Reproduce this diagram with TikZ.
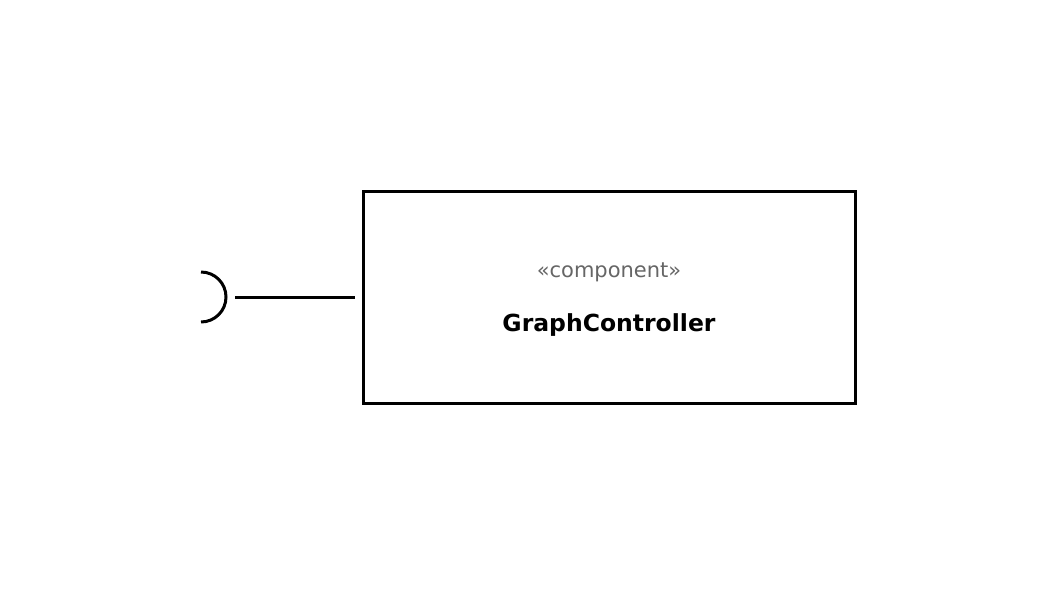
\documentclass[tikz,border=0pt]{standalone}
\usepackage{fontspec}
\setmainfont{DejaVu Sans}
\begin{document}
\begin{tikzpicture}[x=1pt,y=-1pt,
  comp/.style={draw=black,line width=3pt,minimum width=492pt,minimum height=212pt,inner sep=0pt},
  wire/.style={draw=black,line width=3pt},
  stereo/.style={text=black!60,font=\fontsize{21}{25}\selectfont,inner sep=0pt},
  cname/.style={text=black,font=\bfseries\fontsize{23.5}{28}\selectfont,inner sep=0pt}]
\useasboundingbox (0,0) rectangle (1057,595);
\node[comp] (box) at (609,297) {};
\node[stereo] (st) at (609,272) {«component»};
\node[cname] (nm) at (609,325) {GraphController};
\coordinate (wend) at (235,297);
\coordinate (wbox) at (355,297);
\draw[wire] (wend) -- (wbox);
\coordinate (stop) at (201,272);
\draw[wire] (stop) arc[start angle=-90,end angle=90,radius=25];
\end{tikzpicture}
\end{document}
